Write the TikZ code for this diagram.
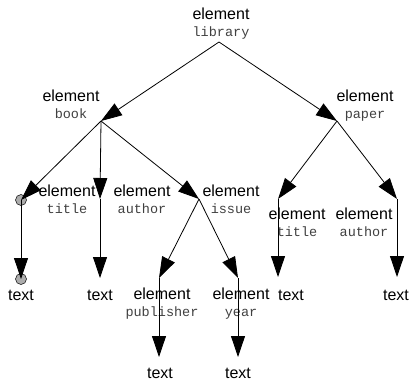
\documentclass[tikz,border=0pt]{standalone}
\usepackage{fontspec}
\setmainfont{Liberation Sans}
\setmonofont{Liberation Mono}
\usetikzlibrary{arrows.meta}

\newcommand{\xmltag}[1]{{\ttfamily\color{black!75}\fontsize{13.5}{16.5}\selectfont #1}}

\begin{document}
\begin{tikzpicture}[x=1pt, y=-1pt,
  edge/.style={-{Triangle[length=21pt,width=14pt]}, line width=0.8pt},
  elem/.style={align=center, inner sep=0pt, anchor=base, font=\fontsize{16}{16.5}\selectfont},
  leaf/.style={inner sep=0pt, anchor=base, font=\fontsize{16}{16.5}\selectfont},
  dot/.style={circle, draw, fill=gray!65, minimum size=11pt, inner sep=0pt, line width=0.5pt}]

\useasboundingbox (0,0) rectangle (411,381);

% branch points
\coordinate (library) at (219,42);
\coordinate (book) at (101,121);
\coordinate (paper) at (337,121);
\coordinate (title) at (21,200);
\coordinate (author) at (100,199);
\coordinate (issue) at (199,199);
\coordinate (publisher) at (159,278);
\coordinate (year) at (238,278);
\coordinate (ptitle) at (278,199);
\coordinate (pauthor) at (397,199);

% ends of the text arrows
\coordinate (titleend) at (21,279);
\coordinate (authorend) at (100,278);
\coordinate (publisherend) at (159,357);
\coordinate (yearend) at (238,357);
\coordinate (ptitleend) at (278,277);
\coordinate (pauthorend) at (397,277);

% labels (base = baseline of the tag line)
\node[elem] (librarylbl) at (221,36) {element\\\xmltag{library}};
\node[elem] (booklbl) at (71,118) {element\\\xmltag{book}};
\node[elem] (paperlbl) at (365,118) {element\\\xmltag{paper}};
\node[elem] (titlelbl) at (67,213) {element\\\xmltag{title}};
\node[elem] (authorlbl) at (142,213) {element\\\xmltag{author}};
\node[elem] (issuelbl) at (231,213) {element\\\xmltag{issue}};
\node[elem] (publisherlbl) at (162,316) {element\\\xmltag{publisher}};
\node[elem] (yearlbl) at (241,316) {element\\\xmltag{year}};
\node[elem] (ptitlelbl) at (297,236) {element\\\xmltag{title}};
\node[elem] (pauthorlbl) at (364,236) {element\\\xmltag{author}};

\node[leaf] (titletxt) at (21,300) {text};
\node[leaf] (authortxt) at (100,300) {text};
\node[leaf] (publishertxt) at (160,378) {text};
\node[leaf] (yeartxt) at (238,378) {text};
\node[leaf] (ptitletxt) at (291,300) {text};
\node[leaf] (pauthortxt) at (396,300) {text};

% grey dots
\node[dot] (titledot) at (title) {};
\node[dot] (titleenddot) at (titleend) {};

% edges
\draw[edge] (library) -- (book);
\draw[edge] (library) -- (paper);
\draw[edge] (book) -- (title);
\draw[edge] (book) -- (author);
\draw[edge] (book) -- (issue);
\draw[edge] (issue) -- (publisher);
\draw[edge] (issue) -- (year);
\draw[edge] (paper) -- (ptitle);
\draw[edge] (paper) -- (pauthor);

\draw[edge] (title) -- (titleend);
\draw[edge] (author) -- (authorend);
\draw[edge] (publisher) -- (publisherend);
\draw[edge] (year) -- (yearend);
\draw[edge] (ptitle) -- (ptitleend);
\draw[edge] (pauthor) -- (pauthorend);

\end{tikzpicture}
\end{document}
